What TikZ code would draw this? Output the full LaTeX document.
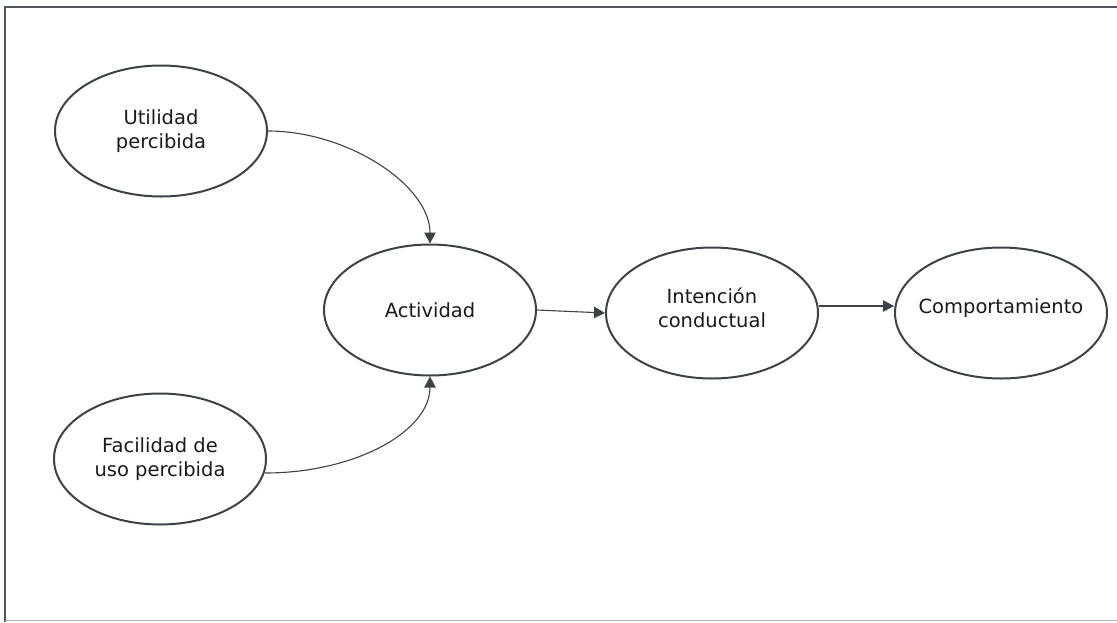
\documentclass[tikz,border=0pt]{standalone}
\usepackage{fontspec}
\setmainfont{DejaVu Sans}
\usetikzlibrary{arrows.meta,shapes.geometric}
\definecolor{ink}{HTML}{3D4247}
\definecolor{txtc}{HTML}{1A1A1A}
\definecolor{frametop}{HTML}{4E545A}
\definecolor{framebot}{HTML}{B0B4B8}
\tikzset{
  oval/.style={ellipse, draw=ink, line width=2pt, fill=white,
    minimum width=212pt, minimum height=131pt, inner sep=0pt,
    align=center, text=txtc, font=\fontsize{19.5}{24}\selectfont},
  txt/.style={align=center, text=txtc, font=\fontsize{19.5}{24}\selectfont},
  link/.style={draw=ink, line width=1.1pt, -{Triangle[length=11pt,width=11.5pt]}}
}
\begin{document}
\begin{tikzpicture}[x=1pt,y=-1pt]
  \useasboundingbox (0,0) rectangle (1117,622);
  % outer frame (right side runs past the page)
  \draw[frametop, line width=2.5pt] (5,622) -- (5,7) -- (1120,7);
  \draw[framebot, line width=1.5pt] (5,620.5) -- (1120,620.5);

  % constructs
  \node[oval] (u) at (161,131) {Utilidad\\percibida};
  \node[oval] (f) at (160,459) {Facilidad de\\uso percibida};
  \node[oval] (a) at (430,310) {Actividad};
  \node[oval, label={[txt,yshift=5.5pt]center:Intención\\conductual}] (i) at (712,313) {};
  \node[oval, label={[txt,yshift=5pt]center:Comportamiento}] (c) at (1001,313) {};

  % relations
  \draw[link] (u.east) .. controls +(80,0) and +(0,-58) .. (a.north);
  \draw[link] ([shift={(-2,14)}]f.east) .. controls +(90,0) and +(0,55) .. (a.south);
  \draw[link] (a.east) -- (i.west);
  \draw[link] ([shift={(0,-7)}]i.east) -- ([shift={(0,-7)}]c.west);
\end{tikzpicture}
\end{document}
